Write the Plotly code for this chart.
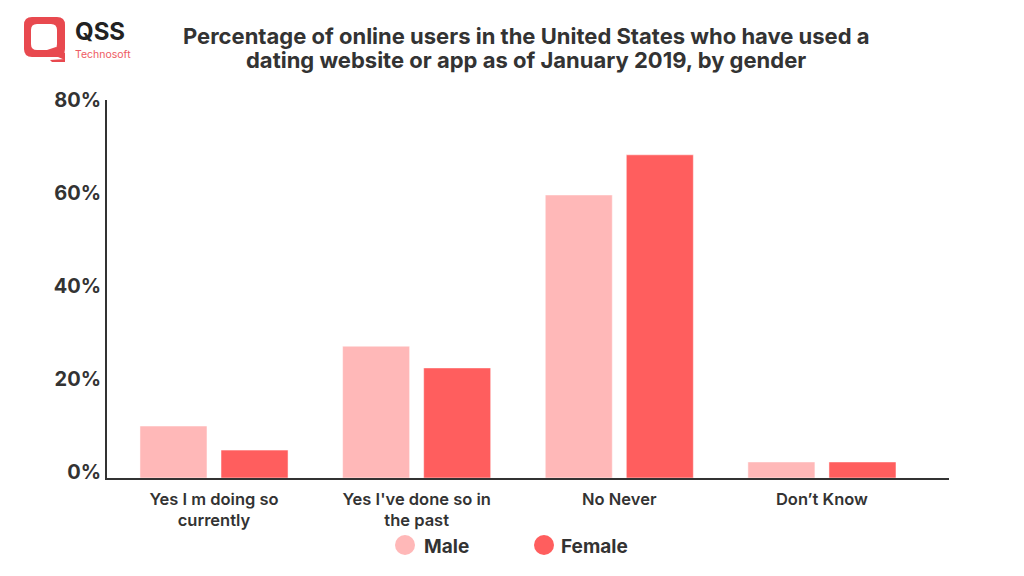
"""Grouped bar chart of dating website or app use by gender."""

from __future__ import annotations

import plotly.graph_objects as go

TEXT_COLOR = "#333333"
FONT = "Inter"


def _px(x: float, y: float) -> tuple[float, float]:
    """Return paper coordinates for a point given in page pixels."""
    return (x - 107) / 842, (478 - y) / 378


def _rounded_box(left: float, top: float, right: float, bottom: float, r: float) -> str:
    """Return an SVG path for a rounded box, in paper coordinates."""
    points = [
        ("M", left + r, top), ("L", right - r, top), ("Q", right, top), ("", right, top + r),
        ("L", right, bottom - r), ("Q", right, bottom), ("", right - r, bottom),
        ("L", left + r, bottom), ("Q", left, bottom), ("", left, bottom - r),
        ("L", left, top + r), ("Q", left, top), ("", left + r, top),
    ]
    parts = []
    for cmd, x, y in points:
        px, py = _px(x, y)
        parts.append(f"{cmd}{px:.5f},{py:.5f}")
    return " ".join(parts) + " Z"


def _logo_shapes() -> list[dict]:
    """Speech-bubble Q of the logo."""
    tail = [_px(47, 50), _px(56, 47), _px(65, 53), _px(65, 60), _px(58, 57), _px(47, 57)]
    foot = [_px(50, 60), _px(65, 59), _px(65, 62), _px(52, 62)]
    shapes = [
        {"type": "path", "xref": "paper", "yref": "paper", "path": _rounded_box(24, 17, 65, 57, 8), "fillcolor": "#e8494f", "line": {"width": 0}},
        {"type": "path", "xref": "paper", "yref": "paper", "path": _rounded_box(31, 24, 57, 50, 6), "fillcolor": "white", "line": {"width": 0}},
    ]
    for pts in (tail, foot):
        path = "M" + " L".join(f"{x:.5f},{y:.5f}" for x, y in pts) + " Z"
        shapes.append({"type": "path", "xref": "paper", "yref": "paper", "path": path, "fillcolor": "#e8494f", "line": {"width": 0}})
    return shapes


def _text(x: float, y: float, text: str, size: float, color: str = TEXT_COLOR, anchor: str = "left") -> dict:
    """Annotation placed by page pixels."""
    px, py = _px(x, y)
    return {
        "text": text, "x": px, "y": py, "xref": "paper", "yref": "paper",
        "xanchor": anchor, "yanchor": "middle", "showarrow": False,
        "font": {"family": FONT, "size": size, "color": color},
    }


def render_usage_chart() -> go.Figure:
    """Bars for male and female answers, with the page furniture around them."""
    labels = ["Yes I m doing so<br>currently", "Yes I've done so in<br>the past", "No Never", "Don’t Know"]
    male = [11, 27.9, 59.9, 3.4]
    female = [5.9, 23.3, 68.4, 3.4]

    fig = go.Figure()
    fig.add_trace(go.Bar(name="Male", x=labels, y=male, marker_color="#ffb8b8", showlegend=False))
    fig.add_trace(go.Bar(name="Female", x=labels, y=female, marker_color="#ff5e5e", showlegend=False))

    # Legend dots, bigger than a plotly legend will draw them
    shapes = _logo_shapes()
    for cx, color in ((405, "#ffb8b8"), (544, "#ff5e5e")):
        x0, y0 = _px(cx - 10, 535)
        x1, y1 = _px(cx + 10, 555)
        shapes.append({
            "type": "circle", "xref": "paper", "yref": "paper",
            "x0": x0, "y0": y0, "x1": x1, "y1": y1,
            "fillcolor": color, "line": {"width": 0},
        })

    fig.update_layout(
        template="plotly_white",
        width=1008,  # the page keeps its 8px body margin
        height=560,
        margin={"l": 99, "r": 67, "t": 92, "b": 90},
        barmode="group",
        bargap=0.2,
        bargroupgap=0.173,
        showlegend=False,
        shapes=shapes,
        annotations=[
            _text(526, 36, "<b>Percentage of online users in the United States who have used a</b>", 22, anchor="center"),
            _text(526, 60, "<b>dating website or app as of January 2019, by gender</b>", 22, anchor="center"),
            _text(73, 31, "<b>QSS</b>", 24, "#222222"),
            _text(73, 54, "Technosoft", 10.5, "#ee5a62"),
            _text(422, 546, "<b>Male</b>", 19),
            _text(559, 546, "<b>Female</b>", 19),
        ],
        xaxis={
            "range": [-0.528, 3.627],
            "showgrid": False,
            "showline": True,
            "linecolor": TEXT_COLOR,
            "linewidth": 2,
            "ticks": "",
            "ticklabelstandoff": 5,
            "tickfont": {"family": FONT, "size": 16.5, "color": TEXT_COLOR, "weight": 600},
        },
        yaxis={
            "range": [0, 80],
            "showgrid": False,
            "zeroline": False,
            "showline": True,
            "linecolor": TEXT_COLOR,
            "linewidth": 2,
            "ticks": "",
            # labels run a little tighter than the bars' scale
            "tickvals": [1.3, 21, 40.6, 60.3, 80],
            "ticktext": ["<b>0%</b>", "<b>20%</b>", "<b>40%</b>", "<b>60%</b>", "<b>80%</b>"],
            "tickfont": {"family": FONT, "size": 20, "color": TEXT_COLOR},
        },
    )
    return fig


fig = render_usage_chart()
fig.write_html("out.html")
